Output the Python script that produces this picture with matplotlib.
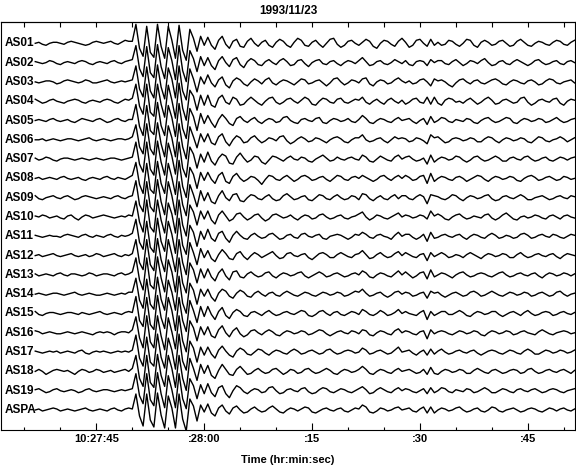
import numpy as np
import matplotlib.pyplot as plt

plt.rcParams['font.family'] = ['Liberation Sans', 'DejaVu Sans']

# samples every 0.5 s, starting 10:27:36.5 ; amplitude in pixels (up = +)
# each trace = pre-arrival (27) + main arrival (21) + coda (103)
t0 = 36.5
dt = 0.5

as01 = ([0,1,-1,-2,0,1,1,0,-1,1,2,1,0,-1,-2,-1,1,2,1,0,1,2,0,-1,1,3,2] +
        [2,19,-5,-13,17,-9,-14,19,-3,-15,17,3,-15,18,-7,-17,14,5,-8,7,-2] +
        [6,-2,-6,3,7,-1,-5,2,4,-3,-4,2,5,0,-3,1,3,-2,-4,1,4,2,-2,-4,1,5,3,-2,-3,1,
         3,-1,-4,0,4,5,-1,-4,-2,2,3,0,-2,1,4,2,-3,-5,0,3,2,-1,-3,2,5,1,-4,-2,3,4,
         0,-3,4,-2,1,-2,-1,3,2,-1,-3,0,4,3,-2,-4,1,3,1,-2,-1,2,3,0,-3,-2,2,4,1,-2,
         -3,0,2,1,-1,-2,1,3,2,-1,-2,1,3])
as02 = ([1,0,-1,0,2,1,-1,-2,0,1,0,-1,1,2,1,-1,-2,0,1,0,-1,1,2,0,-1,1,2] +
        [3,17,-6,-14,16,-10,-15,18,-4,-16,15,2,-17,17,-8,-19,12,4,-9,6,-3] +
        [5,-3,-7,2,6,0,-4,3,5,-2,-5,1,4,2,-2,-3,1,3,0,-2,2,4,1,-3,-2,2,3,-1,-4,0,
         2,3,-1,-2,1,2,-1,-3,0,2,1,-1,2,5,1,-3,-2,1,2,-1,-2,0,3,1,-1,2,-2,-3,1,2,
         1,-3,3,0,2,2,-1,-2,1,3,0,-3,-1,2,1,-1,2,4,0,-3,-2,1,2,-1,-2,1,3,1,-1,-3,
         -1,2,3,0,-2,-1,1,2,-1,-2,1,2,0])
as03 = ([0,-1,0,1,1,0,-2,-1,1,2,1,0,-1,0,2,1,-1,-1,0,1,2,0,-1,0,1,0,1] +
        [2,16,-7,-15,15,-9,-16,17,-5,-17,14,3,-16,16,-9,-18,13,3,-10,5,-2] +
        [7,-1,-5,2,5,-3,-6,1,4,2,-2,-4,0,3,1,-2,2,4,-1,-3,0,2,1,-1,-3,0,3,2,-2,-1,
         1,2,-1,-4,-1,3,4,0,-3,-1,2,1,-1,3,4,-2,-4,0,2,1,-2,-1,2,4,1,-1,1,-2,-1,2,
         3,0,-4,3,1,2,0,-3,-5,-1,2,3,0,-2,1,2,-1,-2,0,2,3,1,-2,-3,0,2,1,-1,-2,1,
         2,0,-3,-2,1,3,2,-1,-2,0,1,2,-1])
as04 = ([2,0,-2,-1,1,2,0,-1,-2,0,1,2,1,-1,-2,0,1,0,-1,1,2,1,-1,-2,0,2,1] +
        [3,17,-5,-13,17,-11,-15,17,-3,-16,16,1,-17,18,-7,-19,11,5,-9,6,-4] +
        [6,-4,-6,3,6,-1,-3,4,2,-4,-3,1,4,1,-2,-4,0,3,4,-1,-3,-1,2,3,0,-2,1,4,2,-3,
         -4,0,3,2,-1,-2,2,3,-1,-2,0,2,1,4,-1,-3,0,2,-1,-3,1,3,0,-2,1,-3,-1,2,3,-1,
         -2,4,-3,4,-2,-4,1,3,2,-1,0,-2,1,3,0,-3,-1,2,4,1,-3,-2,1,2,0,-2,-1,3,4,-1,
         -4,-2,1,2,0,-1,2,3,-2,-4,0,2,1])
as05 = ([0,1,0,-1,1,2,0,-1,0,1,-1,-2,0,2,1,0,-1,1,2,0,-2,-1,1,2,0,-1,1] +
        [1,16,-6,-15,15,-10,-14,18,-5,-15,15,3,-16,17,-8,-18,12,4,-10,7,-3] +
        [5,-2,-7,1,6,2,-3,-5,2,4,0,-2,1,3,-1,-3,0,2,1,-2,-1,3,4,0,-2,-3,1,2,0,-1,
         2,3,-2,-3,0,2,1,-1,0,2,-1,-2,1,5,2,-2,-3,0,2,1,-1,-2,1,3,0,1,2,-1,-3,0,
         2,-4,4,-2,0,3,2,-1,-2,1,0,-1,2,1,-2,-3,0,2,3,0,-2,-1,1,3,2,-2,-3,0,2,1,
         -1,0,2,1,-2,-1,1,3,0,-2,-1,1,2])
as06 = ([0,0,1,-1,0,1,0,-1,0,1,1,0,-1,0,1,2,0,-1,0,1,0,-1,0,1,1,0,1] +
        [3,15,-7,-14,16,-9,-15,17,-4,-17,14,2,-17,16,-7,-19,13,3,-8,6,-2] +
        [6,-3,-5,3,6,-2,-6,0,4,2,-3,-2,2,4,0,-3,-1,2,1,-1,3,4,-1,-4,-2,1,3,1,-2,-1,
         2,1,-1,-3,0,2,3,1,-2,-3,0,2,2,5,0,-2,-1,1,2,-1,-3,0,3,1,2,1,-2,-1,2,1,
         -1,-4,5,2,3,0,-3,-2,1,2,1,-1,0,2,1,-2,-2,1,3,2,-1,-3,0,2,1,-1,0,2,1,-2,
         -3,0,3,2,-1,-2,0,1,3,1,-2,0,2])
as07 = ([1,-1,0,2,1,-1,-2,0,1,1,0,-1,0,1,0,-1,0,1,0,-1,0,1,1,0,-1,0,1] +
        [2,17,-5,-13,17,-10,-16,18,-3,-16,16,3,-15,17,-9,-18,12,5,-9,5,-3] +
        [7,-2,-6,1,5,3,-4,-5,2,6,1,-3,-1,3,2,-3,-5,-1,3,2,0,-2,1,3,0,-1,2,1,-2,-3,
         0,2,4,1,-2,-1,2,0,-1,1,2,0,-1,4,2,-2,-3,0,3,1,-1,-2,2,4,0,2,3,0,-2,-1,
         1,-5,4,-3,0,2,1,-1,0,3,2,-1,-3,-1,2,3,0,-2,-1,1,3,1,-2,-2,1,2,0,-1,2,3,
         0,-2,-1,1,2,-1,-2,0,2,1,-1,1,2])
as08 = ([0,1,-1,0,1,0,-1,1,2,0,-1,0,1,-1,-2,0,1,0,-1,1,2,0,-1,1,0,-1,1] +
        [3,16,-6,-15,15,-11,-15,17,-5,-15,15,1,-16,18,-8,-19,11,4,-10,6,-2] +
        [6,-1,-5,3,6,-3,-5,2,5,0,-3,-1,2,1,-2,-6,-1,3,2,-1,-2,1,3,0,-3,-1,2,3,1,-2,
         -1,1,2,-1,-3,0,3,2,-1,-2,1,2,0,3,1,-1,-3,-1,2,3,0,-2,1,3,0,3,1,-2,-1,2,
         3,-5,5,-3,0,2,1,-1,-2,1,2,0,-3,-1,1,3,2,-1,-3,0,2,1,-1,0,2,1,-2,-3,0,2,
         3,1,-2,-1,1,2,0,-2,-1,2,1,-1,0])
as09 = ([2,-1,-2,0,1,2,0,-1,1,2,0,-2,-1,1,2,1,0,-1,0,1,0,-1,1,2,0,-1,1] +
        [2,17,-7,-14,16,-9,-14,18,-4,-17,16,2,-17,16,-7,-18,13,3,-9,7,-3] +
        [5,-4,-6,2,7,0,-3,3,4,-3,-4,0,3,2,-1,-2,1,3,-1,-3,-2,2,4,1,-2,-1,1,2,-2,-3,
         0,3,2,-1,-2,1,3,0,-2,-1,2,1,-2,4,3,-1,-3,0,2,-1,-2,1,3,-1,2,2,-1,-2,1,3,
         1,-6,3,2,1,-1,-2,0,3,2,-1,-3,0,2,1,-1,0,2,3,-1,-3,-2,1,2,0,-1,1,3,1,-2,
         -2,0,1,2,0,-2,-1,1,2,0,-1,2,1])
as10 = ([1,0,2,1,-1,0,1,-1,-2,1,2,-1,-3,0,2,1,-1,0,1,2,1,0,-1,0,1,0,2] +
        [1,16,-5,-15,17,-10,-15,17,-3,-16,14,3,-16,17,-8,-19,12,5,-8,6,-2] +
        [6,-3,-7,2,6,1,-4,-2,3,4,0,-3,-1,2,3,-1,-4,-2,2,3,1,-1,0,2,-1,-3,0,2,1,-2,
         -1,2,3,0,-2,-1,1,2,-1,-2,0,1,3,5,0,-3,-1,2,1,-1,-2,0,2,4,0,2,1,-1,0,2,
         1,-2,6,1,3,1,-2,-3,0,2,3,0,-2,-1,1,0,-1,2,3,-1,-3,-1,2,4,1,-2,-3,0,1,-1,
         0,2,1,-1,-2,1,2,0,-2,1,2,0,-1])
as11 = ([1,0,-1,0,1,0,0,-1,1,2,1,0,-1,1,2,0,-1,1,0,-1,1,2,0,-1,1,0,1] +
        [3,17,-6,-13,15,-11,-16,18,-5,-15,15,2,-17,18,-9,-18,11,4,-10,5,-3] +
        [7,-2,-5,3,5,-2,-6,1,5,1,-2,-3,1,3,0,-2,-1,2,3,0,-3,-2,1,2,-1,-2,2,3,0,-1,
         1,2,-2,-3,0,1,2,1,-1,-3,-1,2,1,4,2,-1,-2,1,2,0,-1,-3,1,4,0,2,2,-1,-3,-1,
         2,-5,4,-2,-1,1,2,0,-1,1,2,-1,-3,0,2,1,-1,-2,1,3,1,-2,-1,1,0,-2,-1,2,3,1,
         -2,-1,1,2,0,-1,2,1,-1,-2,0,2,1])
as12 = ([0,1,-1,0,1,2,0,-1,0,1,2,0,-1,0,1,-1,0,2,1,-1,0,1,2,0,-1,1,0] +
        [2,16,-7,-14,16,-9,-15,17,-4,-16,16,1,-16,16,-7,-19,13,3,-9,7,-2] +
        [5,-3,-6,1,6,2,-3,-4,2,4,-1,-4,0,3,1,-2,0,2,4,0,-3,-2,2,3,0,-1,1,2,-2,-4,
         -1,2,3,1,-2,-2,1,3,1,-1,-2,1,2,5,1,-3,-2,1,3,0,-2,-1,2,4,0,3,1,-1,-2,1,
         2,-5,3,-1,1,3,1,-2,-1,1,0,-2,1,3,1,-1,-3,0,2,1,-1,0,2,1,-2,-2,1,3,0,-2,
         -1,1,2,0,-1,1,2,-1,-3,0,2,1,0])
as13 = ([1,-1,0,1,0,-1,1,2,0,-1,1,1,0,-1,0,2,1,-1,0,1,1,0,-1,1,2,0,1] +
        [3,17,-5,-15,17,-10,-14,18,-3,-17,15,3,-17,17,-8,-18,12,5,-8,6,-3] +
        [6,-2,-6,2,6,-1,-5,3,4,-2,-3,1,3,0,-2,-1,2,3,-1,-3,0,2,1,-1,0,2,3,-1,-3,-1,
         1,3,1,-2,-1,1,2,0,-2,-1,1,2,0,4,2,-2,-3,0,2,1,-1,-2,1,4,0,3,0,-3,-1,2,
         3,-4,5,-2,0,2,1,-1,-3,0,2,3,0,-2,-1,1,2,1,-1,-2,0,2,3,0,-2,-1,1,2,0,-1,
         1,2,-1,-3,0,2,1,-1,0,2,1,-1,1])
as14 = ([0,1,0,-1,0,1,1,0,-1,0,1,2,0,-1,0,1,0,-1,-1,0,1,0,-1,0,1,0,2] +
        [2,16,-6,-14,15,-10,-15,17,-5,-16,14,2,-16,18,-9,-19,11,4,-10,5,-2] +
        [5,-3,-7,1,5,3,-2,-4,1,4,2,-2,-3,1,3,0,-2,1,2,-1,-2,1,3,1,-1,-2,0,2,1,-1,
         -2,0,2,1,-1,0,2,1,-2,-1,1,3,2,5,1,-2,-1,1,2,-1,-3,-1,2,3,0,2,1,-2,-1,1,
         2,-4,3,1,2,-1,-3,-1,1,2,0,-2,-1,2,3,1,-2,-1,1,3,1,-1,-2,0,2,1,-1,0,2,1,
         -2,-1,1,2,0,-2,-1,2,3,0,-2,0,1])
as15 = ([2,-1,-2,0,1,1,0,-1,0,1,1,0,-1,1,0,-1,0,1,2,0,-1,0,1,0,-1,1,2] +
        [1,17,-7,-13,16,-11,-16,18,-4,-15,16,3,-17,16,-7,-18,13,3,-9,7,-3] +
        [7,-1,-6,2,6,-2,-5,1,4,2,-2,-3,1,2,0,-2,1,3,0,-2,-1,1,2,0,-1,1,3,2,-2,-3,
         -1,2,3,0,-2,1,2,-1,-2,0,2,1,-1,4,2,-1,-2,0,3,1,-2,-1,1,4,0,2,0,-1,-2,1,
         3,-6,2,-2,0,2,2,-1,-1,1,3,1,-2,-3,0,2,1,-1,0,2,2,-1,-3,-1,1,2,0,-2,1,3,
         0,-2,-1,1,2,1,-2,-1,1,2,0,-1,1])
as16 = ([2,1,-1,0,1,0,-1,-1,0,1,0,-1,0,1,0,-1,-2,0,1,0,1,0,-2,0,1,1,0] +
        [3,16,-5,-15,17,-9,-15,17,-3,-17,15,1,-16,17,-8,-19,12,5,-8,6,-2] +
        [6,-3,-5,3,7,0,-4,2,5,-1,-4,-2,2,3,0,-2,1,3,1,-2,-3,0,2,1,-1,0,2,1,-2,-1,
         1,3,2,-1,-3,-1,1,2,0,-1,2,1,-1,3,2,-2,-3,0,2,1,-1,-2,2,4,0,2,1,-1,-2,1,
         2,-6,3,-1,1,2,1,-1,-2,0,2,1,-1,0,2,1,-2,-3,0,2,1,-1,0,2,1,-2,-1,1,2,0,
         -1,-2,1,3,1,-1,-2,0,1,2,1,-1,0])
as17 = ([1,0,-1,0,1,0,1,-1,0,1,0,-1,1,2,-1,-2,0,1,0,1,0,-1,0,1,0,1,0] +
        [2,17,-6,-14,15,-10,-14,18,-5,-16,14,2,-17,18,-9,-18,11,4,-10,5,-3] +
        [5,-2,-6,2,6,1,-3,-5,1,4,2,-2,-3,0,3,2,-1,-3,0,2,1,-1,-2,1,3,1,-2,-1,1,2,
         0,-2,-1,2,3,0,-2,-1,1,2,1,-1,0,4,2,-2,-1,1,2,0,-2,-1,2,5,0,1,2,-1,-3,0,
         2,-3,3,-2,1,3,0,-2,-1,1,2,0,-1,1,2,-1,-3,-1,1,2,1,-1,-2,0,2,1,-1,-2,1,3,
         1,-2,-2,0,2,1,-1,0,2,1,-1,0,2])
as18 = ([0,2,0,-3,-1,1,2,1,0,1,-1,-3,0,2,1,-1,0,2,1,-1,0,1,-1,0,1,2,0] +
        [3,16,-7,-15,16,-11,-16,17,-4,-15,16,3,-16,16,-7,-19,13,3,-9,7,-2] +
        [6,-4,-7,1,7,2,-3,-4,2,5,1,-3,-2,1,3,0,-2,-1,2,3,0,-3,-1,2,1,-2,-1,2,3,0,
         -2,-1,1,3,1,-2,-3,0,2,1,-1,0,2,5,2,-2,-3,0,2,1,-1,-2,1,3,0,1,2,0,-2,-1,
         2,-3,4,-2,-3,0,2,1,-1,0,2,1,-2,-2,1,3,1,-1,-2,1,2,0,-2,-1,1,2,1,-2,-1,2,
         3,0,-2,-1,1,2,0,-1,1,2,0,-2,1])
as19 = ([1,2,0,-2,-1,1,2,0,-1,0,1,0,-2,-1,1,2,0,-1,0,1,1,0,-1,0,1,0,1] +
        [2,17,-5,-13,17,-9,-15,18,-3,-17,15,1,-17,17,-8,-18,12,5,-8,6,-3] +
        [7,-2,-6,3,5,-3,-7,0,5,3,-1,-3,0,2,1,-2,-1,3,4,0,-3,-2,1,2,0,-1,2,3,-1,-3,
         -2,1,3,2,-1,-2,0,2,1,-1,-2,0,2,4,1,-3,-2,1,3,1,-1,-2,1,3,0,2,1,-1,-2,0,
         2,-3,3,-2,0,3,2,-1,-2,1,0,-1,2,1,-2,-1,1,3,1,-2,-2,0,2,1,-1,-2,1,2,0,-1,
         1,2,0,-2,-1,1,2,1,-1,-2,0,1,2])
aspa = ([0,1,-1,0,1,2,1,-1,0,1,0,-1,0,1,2,0,-1,0,1,0,-1,1,2,0,-1,1,2] +
        [1,16,-6,-16,16,-10,-17,17,-5,-18,14,2,-18,16,-9,-21,11,4,-11,5,-2] +
        [6,-3,-6,2,5,-1,-4,2,4,0,-3,-2,1,3,0,-2,-1,2,4,1,-2,-3,0,2,1,-1,1,3,2,-2,
         -3,-1,1,2,0,-1,1,2,-1,-2,0,2,1,5,3,-2,-3,-1,2,1,-1,0,2,3,0,1,2,-1,-2,1,
         3,-3,3,-3,0,2,1,-1,0,2,3,0,-2,-1,1,2,-1,-2,0,3,2,-1,-2,0,1,2,0,-2,-1,1,
         2,1,-1,-2,0,2,1,-1,1,2,0,-1,1])

stations = ['AS01', 'AS02', 'AS03', 'AS04', 'AS05', 'AS06', 'AS07', 'AS08', 'AS09', 'AS10',
            'AS11', 'AS12', 'AS13', 'AS14', 'AS15', 'AS16', 'AS17', 'AS18', 'AS19', 'ASPA']
traces = [as01, as02, as03, as04, as05, as06, as07, as08, as09, as10,
          as11, as12, as13, as14, as15, as16, as17, as18, as19, aspa]

tick_pos = [45, 60, 75, 90, 105]
tick_lab = ['10:27:45', ':28:00', ':15', ':30', ':45']

for tr in traces:
    assert len(tr) == 151, len(tr)

fig = plt.figure(figsize=(5.76, 4.67), dpi=100)
ax = fig.add_axes([0.0015, 1 - 430/467, 0.997, (430 - 22)/467])

# y axis in pixels from the top so offsets are easy
for i, (name, tr) in enumerate(zip(stations, traces)):
    base = 43.3 + 19.3*i
    t = t0 + dt*np.arange(len(tr))
    ax.plot(t, base - np.array(tr), color='black', lw=1.0)
    ax.text(32.3, base, name, ha='left', va='center', fontsize=8.5, fontweight='bold')

ax.set_xlim(31.72, 111.58)
ax.set_ylim(430, 22)
ax.set_yticks([])
ax.set_xticks(tick_pos)
ax.set_xticklabels(tick_lab, fontweight='bold')
ax.set_xticks(np.arange(35, 111, 5), minor=True)
ax.tick_params(which='major', direction='in', length=5, width=0.8, labelsize=8, pad=3)
ax.tick_params(which='minor', direction='in', length=2.5, width=0.8)

top = ax.secondary_xaxis('top')
top.set_xticks(np.arange(35, 111, 5))
top.set_xticklabels([])
top.tick_params(direction='in', length=3.5, width=0.8)

ax.set_title('1993/11/23', fontsize=8.5, fontweight='bold', pad=6)
ax.set_xlabel('Time (hr:min:sec)', fontsize=8, fontweight='bold', labelpad=8)

fig.savefig('out.png', dpi=100)
